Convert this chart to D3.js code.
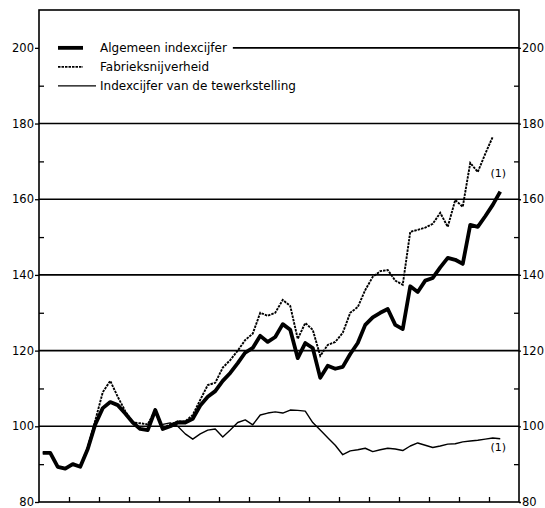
<!DOCTYPE html>
<html>
<head>
<meta charset="utf-8">
<script src="https://cdn.jsdelivr.net/npm/d3@7"></script>
<style>
  body { margin: 0; background: #fff; }
  svg { display: block; }
  .tick text { font-family: "DejaVu Sans", sans-serif; font-size: 11.5px; fill: #000; }
</style>
</head>
<body>
<div id="chart"></div>
<script>
// quarterly index values
var algemeen = [93, 93, 89.3, 88.8, 90, 89.3, 94, 100.5, 104.8, 106.4,
  105.6, 103.4, 101, 99.3, 99, 104.3, 99.3, 100, 101, 101,
  102, 105.5, 107.8, 109.3, 112, 114.1, 116.7, 119.5, 120.7, 123.9,
  122.3, 123.6, 127, 125.5, 118, 122, 120.7, 112.8, 116, 115.2,
  115.7, 119.1, 122, 126.8, 128.8, 130, 131, 126.8, 125.7, 137,
  135.5, 138.5, 139.2, 142, 144.5, 144, 142.9, 153.2, 152.7, 155.5,
  158.5, 162];

var fabrieks = [93, 93, 89.3, 88.8, 90, 89.3, 94.5, 101.5, 109, 112,
  107.8, 104, 101, 100.8, 100.5, 104.3, 99.5, 100.5, 101.3, 101.3,
  103, 107, 110.9, 111.5, 115.5, 117.5, 120, 122.8, 124.5, 130,
  129.2, 130, 133.4, 131.8, 123.1, 127.3, 125.5, 118.6, 121.5, 122.3,
  124.7, 130, 131.5, 136, 139.5, 141, 141.3, 138.5, 137.4, 151.4,
  151.9, 152.5, 153.5, 156.4, 152.7, 159.8, 158, 169.6, 167.2, 172,
  176.5];

// employment index starts later (quarter 16)
var tewerkStart = 16;
var tewerkstelling = [100.5, 100.9, 100, 98, 96.6, 98, 99, 99.3, 97.2, 99,
  101, 101.7, 100.4, 103, 103.5, 103.8, 103.5, 104.3, 104.2, 104,
  101, 99, 97, 95, 92.5, 93.5, 93.8, 94.2, 93.3, 93.8,
  94.2, 94, 93.6, 94.8, 95.6, 95, 94.4, 94.8, 95.3, 95.4,
  95.9, 96.1, 96.3, 96.6, 96.9, 96.7];

var majorTicks = [80, 100, 120, 140, 160, 180, 200];
var minorTicks = [90, 110, 130, 150, 170, 190];
var gridValues = [100, 120, 140, 160, 180];
var yearTicks = [4, 8, 12, 16, 20, 24, 28, 32, 36, 40, 44, 48, 52, 56, 60];

var legendItems = [
  {label: "Algemeen indexcijfer", key: "alg"},
  {label: "Fabrieksnijverheid", key: "fab"},
  {label: "Indexcijfer van de tewerkstelling", key: "tew"}
];

var svgWidth = 545;
var svgHeight = 508;
var margin = {top: 10, right: 26, bottom: 6, left: 39};
var width = svgWidth - margin.left - margin.right;
var height = svgHeight - margin.top - margin.bottom;

var svg = d3.select("#chart")
  .append("svg")
  .attr("width", svgWidth)
  .attr("height", svgHeight);

var chartGroup = svg.append("g")
  .attr("transform", `translate(${margin.left}, ${margin.top})`);

var xScale = d3.scaleLinear().domain([0, 64]).range([0, width]);
var yScale = d3.scaleLinear().domain([80, 210]).range([height, 0]);

// gridlines
chartGroup.selectAll(".grid")
  .data(gridValues)
  .enter()
  .append("line")
  .attr("x1", 0)
  .attr("x2", width)
  .attr("y1", d => yScale(d))
  .attr("y2", d => yScale(d))
  .attr("stroke", "#000")
  .attr("stroke-width", 1.6);

// axes
var leftAxis = chartGroup.append("g")
  .call(d3.axisLeft(yScale).tickValues(majorTicks).tickSize(4).tickPadding(1));
var leftMinor = chartGroup.append("g")
  .call(d3.axisLeft(yScale).tickValues(minorTicks).tickSize(-5).tickFormat(""));
var rightAxis = chartGroup.append("g")
  .attr("transform", `translate(${width}, 0)`)
  .call(d3.axisRight(yScale).tickValues(majorTicks).tickSize(2).tickPadding(1));
var rightMinor = chartGroup.append("g")
  .attr("transform", `translate(${width}, 0)`)
  .call(d3.axisRight(yScale).tickValues(minorTicks).tickSize(-5).tickFormat(""));
var bottomAxis = chartGroup.append("g")
  .attr("transform", `translate(0, ${height})`)
  .call(d3.axisBottom(xScale).tickValues(yearTicks).tickSize(-5).tickFormat(""));

chartGroup.selectAll(".domain").remove();
chartGroup.selectAll(".tick line").attr("stroke", "#000").attr("stroke-width", 1.3);

// frame
chartGroup.append("rect")
  .attr("width", width)
  .attr("height", height)
  .attr("fill", "none")
  .attr("stroke", "#000")
  .attr("stroke-width", 1.6);

var line = d3.line()
  .x(d => xScale(d.q + 0.5))
  .y(d => yScale(d.v));

function toPoints(values, start) {
  return values.map((v, i) => ({q: i + start, v: v}));
}

var styles = {
  alg: {width: 3.8, dash: null},
  fab: {width: 1.9, dash: "2.5,1"},
  tew: {width: 1.4, dash: null}
};

chartGroup.append("path")
  .datum(toPoints(tewerkstelling, tewerkStart))
  .attr("d", line)
  .attr("fill", "none")
  .attr("stroke", "#000")
  .attr("stroke-width", styles.tew.width)
  .attr("stroke-linejoin", "round");

chartGroup.append("path")
  .datum(toPoints(fabrieks, 0))
  .attr("d", line)
  .attr("fill", "none")
  .attr("stroke", "#000")
  .attr("stroke-width", styles.fab.width)
  .attr("stroke-dasharray", styles.fab.dash);

chartGroup.append("path")
  .datum(toPoints(algemeen, 0))
  .attr("d", line)
  .attr("fill", "none")
  .attr("stroke", "#000")
  .attr("stroke-width", styles.alg.width)
  .attr("stroke-linejoin", "round");

// (1) notes at the ends of the lines
var notes = [
  {q: algemeen.length - 1, v: 166},
  {q: tewerkStart + tewerkstelling.length - 1, v: 93.5}
];
chartGroup.selectAll(".note")
  .data(notes)
  .enter()
  .append("text")
  .attr("x", d => xScale(d.q + 0.5) - 2)
  .attr("y", d => yScale(d.v))
  .attr("text-anchor", "middle")
  .attr("font-family", "DejaVu Sans, sans-serif")
  .attr("font-size", "11px")
  .attr("fill", "#000")
  .text("(1)");

// legend, top row sits on the 200 line
var legendGroup = chartGroup.append("g");
var rowY = [yScale(200), yScale(200) + 19, yScale(200) + 38];
var textEnd = 0;

legendItems.forEach(function(item, i) {
  var st = styles[item.key];
  legendGroup.append("line")
    .attr("x1", 19)
    .attr("x2", item.key === "tew" ? 57 : 44)
    .attr("y1", rowY[i])
    .attr("y2", rowY[i])
    .attr("stroke", "#000")
    .attr("stroke-width", st.width)
    .attr("stroke-dasharray", st.dash);

  var t = legendGroup.append("text")
    .attr("x", 61)
    .attr("y", rowY[i])
    .attr("dy", "0.35em")
    .attr("font-family", "DejaVu Sans, sans-serif")
    .attr("font-size", "12px")
    .attr("fill", "#000")
    .text(item.label);

  if (i === 0) {
    textEnd = t.node().getComputedTextLength() + 61;
  }
});

// the 200 line only starts after the first legend label
chartGroup.append("line")
  .attr("x1", textEnd + 6)
  .attr("x2", width)
  .attr("y1", yScale(200))
  .attr("y2", yScale(200))
  .attr("stroke", "#000")
  .attr("stroke-width", 1.6);
</script>
</body>
</html>
